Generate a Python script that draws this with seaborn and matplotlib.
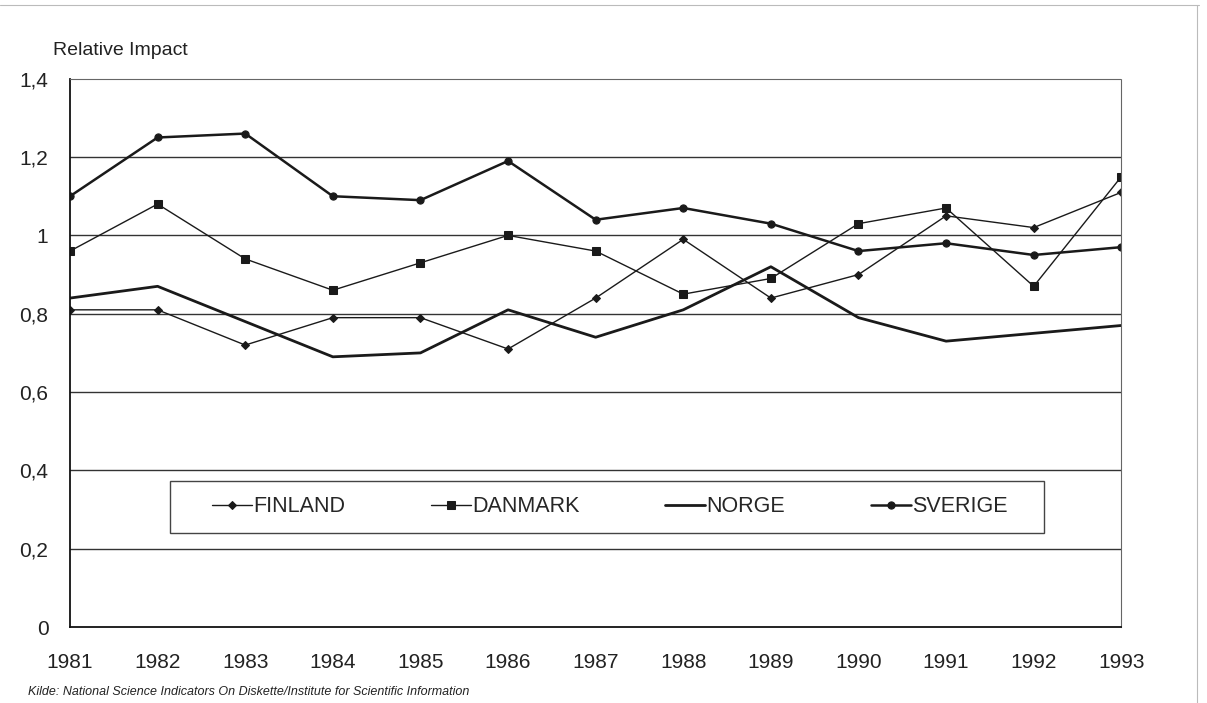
import numpy as np
import pandas as pd
import seaborn as sns
import matplotlib.pyplot as plt
from matplotlib.patches import Rectangle
from matplotlib.lines import Line2D

years = list(range(1981, 1994))
finland = [0.81, 0.81, 0.72, 0.79, 0.79, 0.71, 0.84, 0.99, 0.84, 0.90, 1.05, 1.02, 1.11]
danmark = [0.96, 1.08, 0.94, 0.86, 0.93, 1.00, 0.96, 0.85, 0.89, 1.03, 1.07, 0.87, 1.15]
norge = [0.84, 0.87, 0.78, 0.69, 0.70, 0.81, 0.74, 0.81, 0.92, 0.79, 0.73, 0.75, 0.77]
sverige = [1.10, 1.25, 1.26, 1.10, 1.09, 1.19, 1.04, 1.07, 1.03, 0.96, 0.98, 0.95, 0.97]
countries = ["FINLAND", "DANMARK", "NORGE", "SVERIGE"]
y_ticks = [0, 0.2, 0.4, 0.6, 0.8, 1.0, 1.2, 1.4]
y_labels = ["0", "0,2", "0,4", "0,6", "0,8", "1", "1,2", "1,4"]

df = pd.DataFrame({"year": years * 4,
                   "value": finland + danmark + norge + sverige,
                   "country": sum([[c] * len(years) for c in countries], [])})

sns.set_style("white")
plt.rcParams['font.family'] = ['Liberation Sans', 'DejaVu Sans']

fig = plt.figure(figsize=(12.07, 7.03), dpi=100)
ax = fig.add_axes([0.058, 0.108, 0.871, 0.780])

styles = {
    "FINLAND": dict(marker="D", markersize=3.8, lw=1.0),
    "DANMARK": dict(marker="s", markersize=5.2, lw=1.0),
    "NORGE": dict(marker=None, markersize=0, lw=2.0),
    "SVERIGE": dict(marker="o", markersize=5.2, lw=1.8),
}
for c in countries:
    st = styles[c]
    sns.lineplot(data=df[df.country == c], x="year", y="value", ax=ax,
                 color="#1a1a1a", lw=st["lw"], marker=st["marker"],
                 markersize=st["markersize"], markeredgecolor="#1a1a1a",
                 label=c)

for y in y_ticks[1:-1]:
    ax.axhline(y, color="#333333", lw=1.0, zorder=0)

ax.set_xlim(1981, 1993)
ax.set_ylim(0, 1.4)
ax.set_xticks(years)
ax.set_xticklabels([str(y) for y in years], fontsize=15)
ax.set_yticks(y_ticks)
ax.set_yticklabels(y_labels, fontsize=15)
ax.tick_params(axis="both", direction="inout", length=7, width=1, colors="#222222")
ax.tick_params(axis="x", pad=15)
ax.tick_params(axis="y", pad=12)
ax.set_xlabel("")
ax.set_ylabel("")

ax.spines["left"].set_color("#111111")
ax.spines["left"].set_linewidth(1.3)
ax.spines["bottom"].set_color("#111111")
ax.spines["bottom"].set_linewidth(1.3)
ax.spines["top"].set_color("#666666")
ax.spines["top"].set_linestyle((0, (1, 1)))
ax.spines["right"].set_color("#666666")
ax.spines["right"].set_linestyle((0, (1, 1)))

fig.text(0.044, 0.922, "Relative Impact", fontsize=14, color="#222222")

# legend box drawn separately, entries placed inside
ax.add_patch(Rectangle((0.095, 0.1715), 0.831, 0.095, transform=ax.transAxes,
                       fill=False, edgecolor="#444444", lw=1.0, zorder=4))
ax.add_patch(Rectangle((0.095, 0.1715), 0.831, 0.095, transform=ax.transAxes,
                       facecolor="white", edgecolor="none", zorder=3))
leg = ax.legend(loc="center left", bbox_to_anchor=(0.135, 0.219), ncol=4, frameon=False,
                fontsize=15.5, handlelength=1.85, columnspacing=4.0, borderpad=0,
                borderaxespad=0, handletextpad=0.05)
leg.set_zorder(5)

fig.text(0.023, 0.012, "Kilde: National Science Indicators On Diskette/Institute for Scientific Information",
         fontsize=9, style="italic", color="#222222")

fig.add_artist(Line2D([0.0, 0.993], [0.993, 0.993], transform=fig.transFigure,
                      color="#bbbbbb", lw=0.8))
fig.add_artist(Line2D([0.992, 0.992], [0.0, 0.993], transform=fig.transFigure,
                      color="#bbbbbb", lw=0.8))

fig.savefig("out.png", dpi=100)
